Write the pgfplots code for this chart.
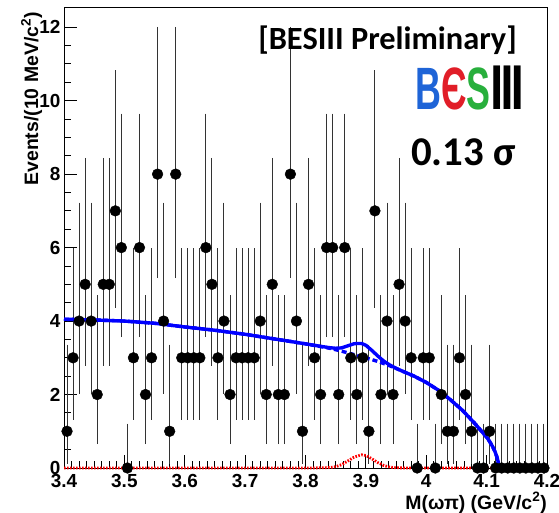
\documentclass[border=0pt]{standalone}
\usepackage{fontspec}
\setmainfont{Liberation Sans}
\newfontfamily\calibri{Carlito}
\newfontfamily\dejavu{DejaVu Sans}
\usepackage{pgfplots}
\usepackage{pgfplotstable}
\pgfplotsset{compat=1.18}

\definecolor{fitblue}{RGB}{0,0,255}
\definecolor{sigred}{RGB}{255,0,0}
\definecolor{logoblue}{RGB}{30,100,215}
\definecolor{logored}{RGB}{225,30,40}
\definecolor{logogreen}{RGB}{40,175,60}

% events per 10 MeV bin, with asymmetric (Poisson) errors
\pgfplotstableread{
x     y  ep     em
3.405 1  2.300  0.827
3.415 3  2.918  1.633
3.425 4  3.163  1.914
3.435 5  3.382  2.160
3.445 4  3.163  1.914
3.455 2  2.638  1.292
3.465 5  3.382  2.160
3.475 5  3.382  2.160
3.485 7  3.770  2.581
3.495 6  3.584  2.380
3.505 0  1.150  0
3.515 3  2.918  1.633
3.525 6  3.584  2.380
3.535 2  2.638  1.292
3.545 3  2.918  1.633
3.555 8  3.950  2.768
3.565 4  3.163  1.914
3.575 1  2.300  0.827
3.585 8  3.950  2.768
3.595 3  2.918  1.633
3.605 3  2.918  1.633
3.615 3  2.918  1.633
3.625 3  2.918  1.633
3.635 6  3.584  2.380
3.645 5  3.382  2.160
3.655 3  2.918  1.633
3.665 4  3.163  1.914
3.675 2  2.638  1.292
3.685 3  2.918  1.633
3.695 3  2.918  1.633
3.705 3  2.918  1.633
3.715 3  2.918  1.633
3.725 4  3.163  1.914
3.735 2  2.638  1.292
3.745 5  3.382  2.160
3.755 2  2.638  1.292
3.765 2  2.638  1.292
3.775 8  3.950  2.768
3.785 4  3.163  1.914
3.795 1  2.300  0.827
3.805 5  3.382  2.160
3.815 3  2.918  1.633
3.825 2  2.638  1.292
3.835 6  3.584  2.380
3.845 6  3.584  2.380
3.855 2  2.638  1.292
3.865 6  3.584  2.380
3.875 3  2.918  1.633
3.885 2  2.638  1.292
3.895 3  2.918  1.633
3.905 1  2.300  0.827
3.915 7  3.770  2.581
3.925 2  2.638  1.292
3.935 4  3.163  1.914
3.945 2  2.638  1.292
3.955 5  3.382  2.160
3.965 4  3.163  1.914
3.975 3  2.918  1.633
3.985 0  1.150  0
3.995 3  2.918  1.633
4.005 3  2.918  1.633
4.015 0  1.150  0
4.025 2  2.638  1.292
4.035 1  2.300  0.827
4.045 1  2.300  0.827
4.055 3  2.918  1.633
4.065 2  2.638  1.292
4.075 1  2.300  0.827
4.085 0  1.150  0
4.095 0  1.150  0
4.105 1  2.300  0.827
4.115 0  1.150  0
4.125 0  1.150  0
4.135 0  1.150  0
4.145 0  1.150  0
4.155 0  1.150  0
4.165 0  1.150  0
4.175 0  1.150  0
4.185 0  1.150  0
4.195 0  1.150  0
}\data

% total fit
\pgfplotstableread{
x      y
3.40   4.05
3.45   4.03
3.50   4.00
3.55   3.94
3.60   3.84
3.65   3.75
3.70   3.64
3.75   3.51
3.80   3.38
3.82   3.325
3.84   3.275
3.85   3.26
3.86   3.27
3.87   3.325
3.88   3.38
3.885  3.39
3.893  3.39
3.90   3.34
3.91   3.20
3.92   3.045
3.93   2.905
3.94   2.80
3.95   2.716
3.96   2.64
3.98   2.50
4.00   2.33
4.02   2.12
4.04   1.86
4.06   1.57
4.08   1.22
4.09   1.03
4.10   0.84
4.105  0.72
4.11   0.58
4.114  0.44
4.117  0.30
4.119  0.18
4.1195 0.08
4.12   0.0
4.20   0.0
}\total

% background
\pgfplotstableread{
x      y
3.40   4.05
3.45   4.03
3.50   4.00
3.55   3.94
3.60   3.84
3.65   3.75
3.70   3.64
3.75   3.51
3.80   3.38
3.82   3.32
3.84   3.26
3.86   3.18
3.88   3.09
3.90   3.00
3.92   2.90
3.94   2.78
3.96   2.64
3.98   2.50
4.00   2.33
4.02   2.12
4.04   1.86
4.06   1.57
4.08   1.22
4.09   1.03
4.10   0.84
4.105  0.72
4.11   0.58
4.114  0.44
4.117  0.30
4.119  0.18
4.1195 0.08
4.12   0.0
4.20   0.0
}\bkg

% signal
\pgfplotstableread{
x      y
3.40   0
3.80   0
3.82   0.003
3.84   0.012
3.85   0.036
3.86   0.092
3.87   0.19
3.88   0.29
3.885  0.32
3.893  0.36
3.90   0.34
3.91   0.25
3.92   0.145
3.93   0.065
3.94   0.023
3.95   0.006
3.97   0
4.20   0
}\sig

\begin{document}
\begin{tikzpicture}
\path[use as bounding box] (-64bp,-45bp) rectangle (495bp,468bp);
\begin{axis}[
    at={(0,0)}, anchor=south west,
    width=483bp, height=461bp, scale only axis,
    xmin=3.4, xmax=4.2, ymin=0, ymax=12.55,
    xtick={3.4,3.5,3.6,3.7,3.8,3.9,4.0,4.1,4.2},
    ytick={0,2,4,6,8,10,12},
    minor x tick num=7, minor y tick num=3,
    tick align=inside, xtick pos=bottom, ytick pos=left,
    major tick length=13bp, minor tick length=7bp,
    axis line style={line width=0.9bp},
    tick style={black, line width=0.9bp},
    ticklabel style={font=\fontsize{19}{19}\selectfont\bfseries},
    yticklabel style={xshift=0bp},
    xticklabel style={yshift=-3bp},
    /pgf/number format/assume math mode=true,
    clip=false,
]
\addplot[only marks, mark=*, mark size=5.4bp, black,
    error bars/.cd, y dir=both, y explicit,
    error bar style={line width=1bp, black!80},
    error mark options={line width=1bp, black!80, mark size=2.2bp}]
    table[x=x, y=y, y error plus=ep, y error minus=em] {\data};
\addplot[fitblue, line width=3.4bp, dash pattern=on 5bp off 3bp] table {\bkg};
\addplot[fitblue, line width=3.4bp] table {\total};
\addplot[sigred, line width=2.8bp, dash pattern=on 1.6bp off 1.4bp] table {\sig};
\end{axis}

\node[rotate=90, anchor=north east, inner sep=0pt, font=\fontsize{19.5}{19.5}\selectfont\bfseries]
    at (-43bp,456bp) {Events/(10 MeV/c\textsuperscript{2})};
\node[anchor=base east, inner sep=0pt, font=\fontsize{19.5}{19.5}\selectfont\bfseries]
    at (483bp,-41bp) {M(ωπ) (GeV/c\textsuperscript{2})};

\node[font=\fontsize{32.5}{32.5}\selectfont\calibri\bfseries] at (323.5bp,428bp) {[BESIII Preliminary]};
\node at (406bp,380bp) {\scalebox{0.6}[1]{\fontsize{60}{60}\selectfont\bfseries\textcolor{logoblue}{B}\textcolor{logored}{Є}\textcolor{logogreen}{S}{\dejavu\bfseries Ⅲ}}};
\node[font=\fontsize{41}{41}\selectfont\calibri\bfseries] at (399.5bp,316bp) {0.13 σ};
\end{tikzpicture}
\end{document}
